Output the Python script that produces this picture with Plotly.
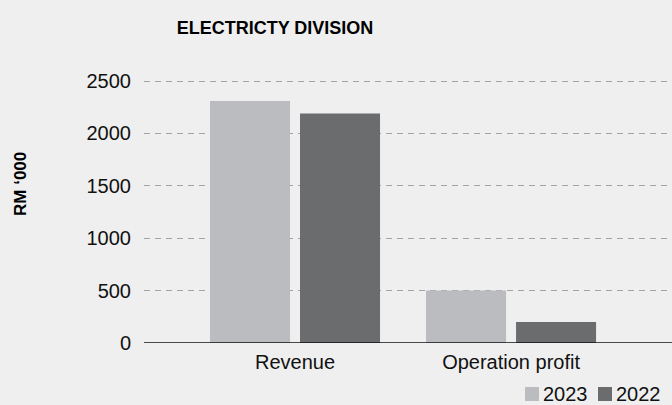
import plotly.graph_objects as go

# Division figures, RM '000
categories = ["Revenue", "Operation profit"]
years = ["2023", "2022"]
values_2023 = [2310, 500]
values_2022 = [2190, 200]
y_ticks = [0, 500, 1000, 1500, 2000, 2500]

colors = {"2023": "#BBBCBF", "2022": "#6B6C6E"}
font_family = "Arial, Liberation Sans, Helvetica, sans-serif"

fig = go.Figure()
for year, vals in zip(years, [values_2023, values_2022]):
    fig.add_trace(go.Bar(
        x=categories, y=vals, name=year,
        marker=dict(color=colors[year], line=dict(width=0)),
        showlegend=False,
    ))

W, H = 672, 405
left, right, top, bottom = 144, 0, 79, 62
plot_w, plot_h = W - left - right, H - top - bottom


def px_x(px):
    return (px - left) / plot_w


def px_y(py):
    return (H - bottom - py) / plot_h


# Legend drawn as swatch + label pairs along the bottom right
legend_items = [("2023", 525), ("2022", 598)]
legend_shapes, legend_notes = [], []
for year, sx in legend_items:
    legend_shapes.append(dict(
        type="rect", xref="paper", yref="paper",
        x0=px_x(sx), x1=px_x(sx + 14), y0=px_y(401), y1=px_y(387),
        fillcolor=colors[year], line=dict(width=0),
    ))
    legend_notes.append(dict(
        text=year, xref="paper", yref="paper", x=px_x(sx + 16), y=px_y(394),
        xanchor="left", yanchor="middle", showarrow=False,
        font=dict(size=20, color="#111111"),
    ))

fig.update_layout(
    width=W, height=H,
    margin=dict(l=left, r=right, t=top, b=bottom, pad=0),
    paper_bgcolor="#EFEFEF",
    plot_bgcolor="rgba(0,0,0,0)",
    barmode="group",
    bargap=0.1667,
    bargroupgap=0.111,
    font=dict(family=font_family, size=20, color="#111111"),
    showlegend=False,
    xaxis=dict(
        type="category", range=[-0.699, 1.745],
        showgrid=False, zeroline=False,
        showline=False, ticks="", ticklabelstandoff=5,
        tickfont=dict(size=20),
    ),
    yaxis=dict(
        range=[0, 2520], tickvals=y_ticks,
        showgrid=True, gridcolor="#A3A3A3", gridwidth=1, griddash="6px,5px",
        zeroline=False, showline=False, ticks="",
        ticklabelstandoff=12, tickfont=dict(size=20),
    ),
    title=dict(
        text="<b>ELECTRICTY DIVISION</b>", x=275 / W, xanchor="center",
        y=1 - 28 / H, yanchor="middle",
        font=dict(size=18, color="#000000"),
    ),
    annotations=[dict(
        text="<b>RM ‘000</b>", textangle=-90, xref="paper", yref="paper",
        x=px_x(20), y=px_y(184),
        xanchor="center", yanchor="middle", showarrow=False,
        font=dict(size=17, color="#000000"),
    )] + legend_notes,
    shapes=[dict(
        type="line", xref="paper", yref="y", x0=0, x1=1, y0=0, y1=0,
        line=dict(color="#111111", width=1.5), layer="above",
    )] + legend_shapes,
)

fig.write_html("out.html")
